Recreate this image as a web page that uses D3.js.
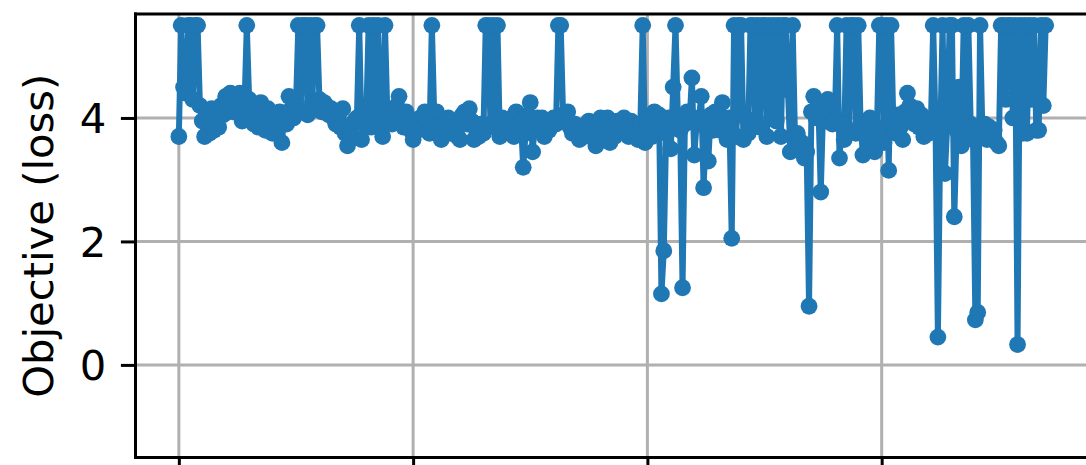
<!DOCTYPE html>
<html>
<head>
<meta charset="utf-8">
<script src="https://cdn.jsdelivr.net/npm/d3@7"></script>
<style>
  html, body { margin: 0; padding: 0; background: #fff; }
  svg { display: block; }
  text { font-family: "DejaVu Sans", sans-serif; fill: #000; }
</style>
</head>
<body>
<svg id="chart" width="1086" height="465"></svg>
<script>
// Objective value recorded at each trial (trial number = array index)
const lossValues = [
  3.7, 5.5, 4.5, 4.4, 5.5, 5.5, 4.3, 5.5, 5.5, 4.2,
  3.95, 3.7, 4.05, 3.75, 4.15, 3.8, 3.95, 3.85, 4.2, 4.05,
  4.35, 4.3, 4.4, 4.1, 4.35, 4.2, 4.4, 3.95, 4.15, 5.5,
  4.3, 4.0, 3.9, 4.1, 3.85, 4.25, 3.95, 3.8, 4.15, 3.9,
  3.75, 4.0, 3.85, 4.1, 3.6, 4.05, 3.9, 4.35, 4.15, 4.0,
  4.2, 5.5, 4.1, 5.5, 5.5, 4.05, 5.5, 4.25, 5.5, 5.5,
  4.3, 4.1, 4.25, 4.2, 4.05, 4.15, 4.0, 3.9, 4.1, 3.85,
  4.15, 3.75, 3.55, 3.8, 3.7, 3.95, 4.0, 5.5, 3.65, 3.9,
  4.0, 5.5, 3.85, 5.5, 4.1, 5.5, 3.95, 3.7, 5.5, 4.05,
  4.1, 3.9, 4.05, 4.2, 4.35, 4.0, 3.85, 4.1, 3.95, 3.8,
  3.65, 3.9, 3.8, 4.0, 3.85, 4.1, 3.95, 3.75, 5.5, 4.05,
  4.1, 3.85, 3.65, 3.9, 3.8, 4.0, 3.75, 3.95, 3.85, 3.7,
  3.65, 4.05, 4.1, 3.9, 4.15, 3.95, 3.65, 3.8, 3.7, 3.9,
  3.75, 5.5, 5.5, 3.9, 5.5, 3.85, 5.5, 3.7, 4.0, 3.8,
  3.95, 3.8, 4.0, 3.7, 4.1, 3.85, 3.95, 3.2, 3.75, 4.05,
  4.25, 3.45, 3.9, 4.0, 3.85, 4.0, 3.7, 3.95, 3.8, 3.9,
  4.0, 3.9, 5.5, 5.5, 4.05, 3.95, 4.1, 3.85, 3.75, 3.9,
  3.8, 3.65, 3.85, 3.7, 3.9, 3.95, 3.8, 3.9, 3.55, 3.85,
  4.0, 3.75, 3.9, 4.0, 3.6, 3.8, 3.7, 3.95, 3.85, 3.9,
  4.0, 3.85, 3.7, 3.95, 3.9, 3.8, 3.65, 3.9, 5.5, 3.6,
  3.85, 3.95, 3.7, 4.1, 3.9, 4.05, 1.15, 1.85, 3.75, 4.0,
  3.5, 4.5, 5.5, 4.0, 3.8, 1.25, 3.9, 4.1, 3.95, 4.65,
  3.4, 3.9, 4.0, 4.35, 2.87, 3.85, 3.3, 4.05, 3.8, 4.1,
  4.0, 3.8, 4.25, 3.9, 3.65, 4.0, 2.05, 5.5, 3.7, 5.5,
  5.5, 3.65, 4.0, 3.75, 5.5, 5.5, 3.95, 5.5, 3.85, 5.5,
  5.5, 3.7, 5.5, 4.0, 5.5, 3.95, 5.5, 3.7, 5.5, 5.5,
  4.45, 3.45, 5.5, 3.7, 3.75, 3.55, 3.6, 3.35, 3.45, 0.95,
  4.1, 4.35, 4.0, 4.2, 2.8, 4.15, 3.95, 4.3, 4.1, 3.9,
  3.95, 5.5, 3.35, 3.9, 3.65, 5.5, 3.8, 5.5, 5.5, 3.75,
  5.5, 3.9, 3.4, 3.8, 3.65, 4.0, 3.75, 3.45, 3.85, 5.5,
  5.5, 3.6, 5.5, 3.15, 5.5, 3.9, 3.75, 4.05, 3.85, 3.65,
  4.1, 4.4, 4.2, 4.0, 3.9, 4.15, 3.85, 4.05, 3.7, 3.95,
  3.75, 3.9, 5.5, 3.85, 0.45, 3.7, 5.5, 3.1, 3.9, 5.5,
  5.5, 2.4, 3.8, 4.5, 3.55, 5.5, 3.75, 5.5, 3.9, 3.65,
  0.73, 0.85, 5.5, 3.75, 3.9, 3.65, 3.85, 3.7, 3.8, 3.6,
  3.55, 5.5, 5.5, 4.3, 5.5, 5.5, 4.0, 5.5, 0.33, 5.5,
  3.75, 5.5, 3.75, 5.5, 4.3, 5.5, 3.8, 3.8, 5.5, 4.2, 5.5
];

const yTicks = [0, 2, 4];
const xTicks = [0, 100, 200, 300];
const yLabel = "Objective (loss)";

const svg = d3.select("#chart");

// axes box (right edge runs just past the visible area)
const plot = { left: 135.5, right: 1089, top: 14, bottom: 457.5 };

const n = lossValues.length;
const xPad = (n - 1) * 0.05;
const x = d3.scaleLinear()
  .domain([-xPad, (n - 1) + xPad])
  .range([plot.left, plot.right]);

const y = d3.scaleLinear()
  .domain([-1.5, 5.684])
  .range([plot.bottom, plot.top]);

const gridColor = "#b0b0b0";
const blue = "#1f77b4";

// grid
const grid = svg.append("g");
grid.selectAll("line.vg").data(xTicks).join("line")
  .attr("x1", d => x(d)).attr("x2", d => x(d))
  .attr("y1", plot.top).attr("y2", plot.bottom)
  .attr("stroke", gridColor).attr("stroke-width", 3);
grid.selectAll("line.hg").data(yTicks).join("line")
  .attr("y1", d => y(d)).attr("y2", d => y(d))
  .attr("x1", plot.left).attr("x2", plot.right)
  .attr("stroke", gridColor).attr("stroke-width", 3);

// series line and markers
const clipId = "plot-clip";
svg.append("clipPath").attr("id", clipId)
  .append("rect")
  .attr("x", plot.left).attr("y", plot.top)
  .attr("width", plot.right - plot.left).attr("height", plot.bottom - plot.top);

const series = svg.append("g").attr("clip-path", `url(#${clipId})`);
const line = d3.line().x((d, i) => x(i)).y(d => y(d));
series.append("path")
  .datum(lossValues)
  .attr("d", line)
  .attr("fill", "none")
  .attr("stroke", blue)
  .attr("stroke-width", 6)
  .attr("stroke-linejoin", "round")
  .attr("stroke-linecap", "butt");
series.selectAll("circle").data(lossValues).join("circle")
  .attr("cx", (d, i) => x(i))
  .attr("cy", d => y(d))
  .attr("r", 8.4)
  .attr("fill", blue);

// axes
const yAxis = d3.axisLeft(y).tickValues(yTicks).tickSize(14.6).tickPadding(14.6)
  .tickFormat(d3.format("d"));
const yG = svg.append("g").attr("transform", `translate(${plot.left},0)`).call(yAxis);
yG.select(".domain").remove();
yG.selectAll(".tick line").attr("stroke", "#000").attr("stroke-width", 3);
yG.selectAll(".tick text")
  .attr("font-size", 41.7)
  .attr("font-family", "DejaVu Sans, sans-serif")
  .attr("dy", "0.36em");

const xAxis = d3.axisBottom(x).tickValues(xTicks).tickSize(14.6).tickFormat("");
const xG = svg.append("g").attr("transform", `translate(0,${plot.bottom})`).call(xAxis);
xG.select(".domain").remove();
xG.selectAll(".tick line").attr("stroke", "#000").attr("stroke-width", 3);

// spines
const spines = svg.append("g").attr("stroke", "#000").attr("stroke-width", 3)
  .attr("stroke-linecap", "square");
spines.append("line").attr("x1", plot.left).attr("x2", plot.left)
  .attr("y1", plot.top).attr("y2", plot.bottom);
spines.append("line").attr("x1", plot.left).attr("x2", plot.right)
  .attr("y1", plot.bottom).attr("y2", plot.bottom);
spines.append("line").attr("x1", plot.left).attr("x2", plot.right)
  .attr("y1", plot.top).attr("y2", plot.top);
spines.append("line").attr("x1", plot.right).attr("x2", plot.right)
  .attr("y1", plot.top).attr("y2", plot.bottom);

// y-axis title
svg.append("text")
  .attr("transform", `translate(53,${(plot.top + plot.bottom) / 2}) rotate(-90)`)
  .attr("text-anchor", "middle")
  .attr("font-size", 41.7)
  .text(yLabel);
</script>
</body>
</html>
